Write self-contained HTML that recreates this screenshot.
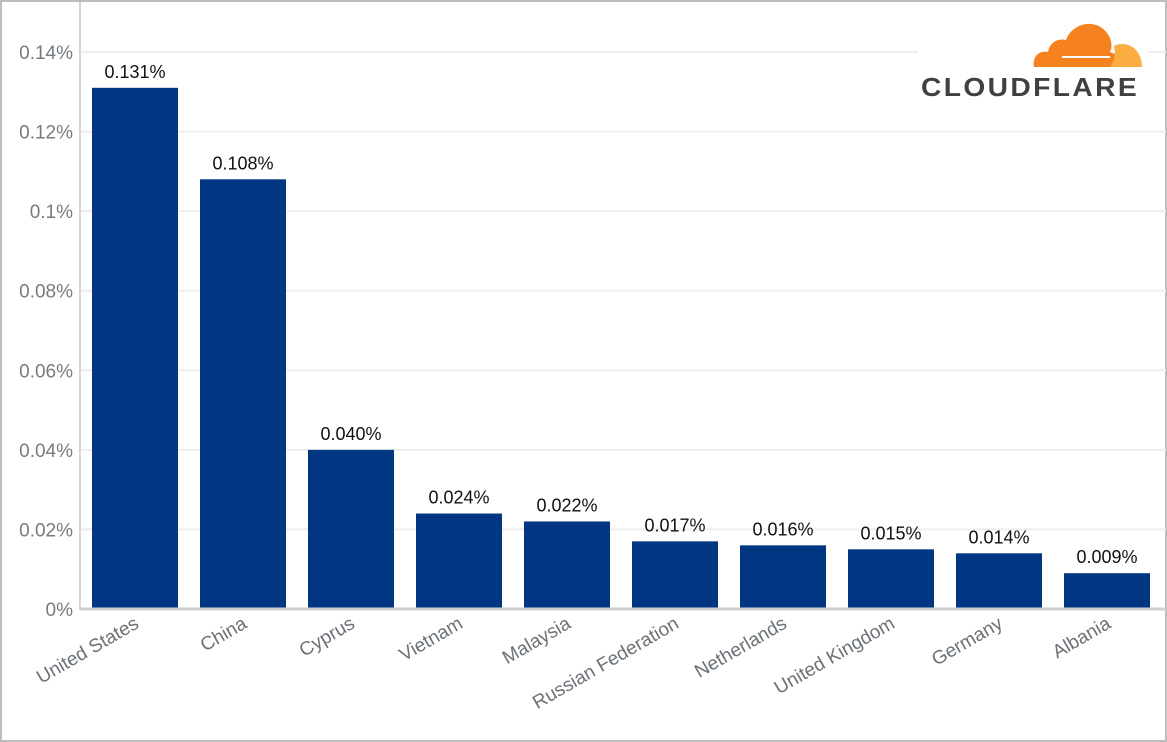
<!DOCTYPE html>
<html><head><meta charset="utf-8"><style>
html,body{margin:0;padding:0;background:#fff;}
svg{display:block;font-family:"Liberation Sans",sans-serif;}
</style></head><body>
<svg id="chart" width="1167" height="742" viewBox="0 0 1167 742">
<rect x="1" y="1" width="1165" height="740" fill="#fff" stroke="#bdbdbd" stroke-width="2"/>
<g id="grid"></g>
<line x1="80" y1="2" x2="80" y2="610" stroke="#d6d6d6" stroke-width="2"/>
<g id="bars"></g>
<line x1="80" y1="609" x2="1166" y2="609" stroke="#cfcfcf" stroke-width="3"/>
<g id="xlabels"></g>
<g>
<rect x="918" y="10" width="230" height="95" fill="#fff"/>
<path d="M1034 67 C1032 56 1040 50 1048 52 C1050 42 1058 38 1066 40 C1072 22 1100 16 1110 38 C1112 44 1112 48 1110 52 L1118 55 C1116 60 1114 64 1110 67 Z" fill="#f6821f"/>
<path d="M1110 67 C1114 62 1116 56 1114 46 C1126 40 1142 48 1142 67 Z" fill="#fbad41"/>
<line x1="1062" y1="57" x2="1110" y2="57" stroke="#fff" stroke-width="2"/>
<text x="921" y="96" font-size="26" font-weight="bold" fill="#404041" letter-spacing="2.2" textLength="218" lengthAdjust="spacingAndGlyphs">CLOUDFLARE</text>
</g>
</svg>
<script>
const categories=["United States","China","Cyprus","Vietnam","Malaysia","Russian Federation","Netherlands","United Kingdom","Germany","Albania"];
const values=[0.131,0.108,0.040,0.024,0.022,0.017,0.016,0.015,0.014,0.009];
const valueLabels=["0.131%","0.108%","0.040%","0.024%","0.022%","0.017%","0.016%","0.015%","0.014%","0.009%"];
const ticks=[0,0.02,0.04,0.06,0.08,0.1,0.12,0.14];
const tickLabels=["0%","0.02%","0.04%","0.06%","0.08%","0.1%","0.12%","0.14%"];
const NS="http://www.w3.org/2000/svg";
const y=v=>609-v*(557/0.14);
const x=i=>92+i*108;
const bw=86;
function mk(tag,attrs,parent){const e=document.createElementNS(NS,tag);for(const k in attrs)e.setAttribute(k,attrs[k]);parent.appendChild(e);return e;}
const grid=document.getElementById('grid'),bars=document.getElementById('bars'),xl=document.getElementById('xlabels');
ticks.forEach((t,i)=>{
  if(t>0){const l=mk('line',{x1:80,x2:1166,y1:y(t),y2:y(t),stroke:'#eeeeee','stroke-width':2},grid);
  
  }
  const tx=mk('text',{x:73,y:y(t)+7,'text-anchor':'end','font-size':19,fill:'#757b80'},grid);
  tx.textContent=tickLabels[i];
  
  
});
values.forEach((v,i)=>{
  const r=mk('rect',{x:x(i),y:y(v),width:bw,height:609-y(v),fill:'#003682'},bars);
  
  
  const t=mk('text',{x:x(i)+bw/2,y:y(v)-10,'text-anchor':'middle','font-size':18,fill:'#111'},bars);
  t.textContent=valueLabels[i];
  
  
  const cx=x(i)+bw/2+5, cy=627;
  const c=mk('text',{x:cx,y:cy,'text-anchor':'end','font-size':19,fill:'#6b7177',transform:`rotate(-30 ${cx} ${cy})`},xl);
  c.textContent=categories[i];
  
  
});
</script>
</body></html>
